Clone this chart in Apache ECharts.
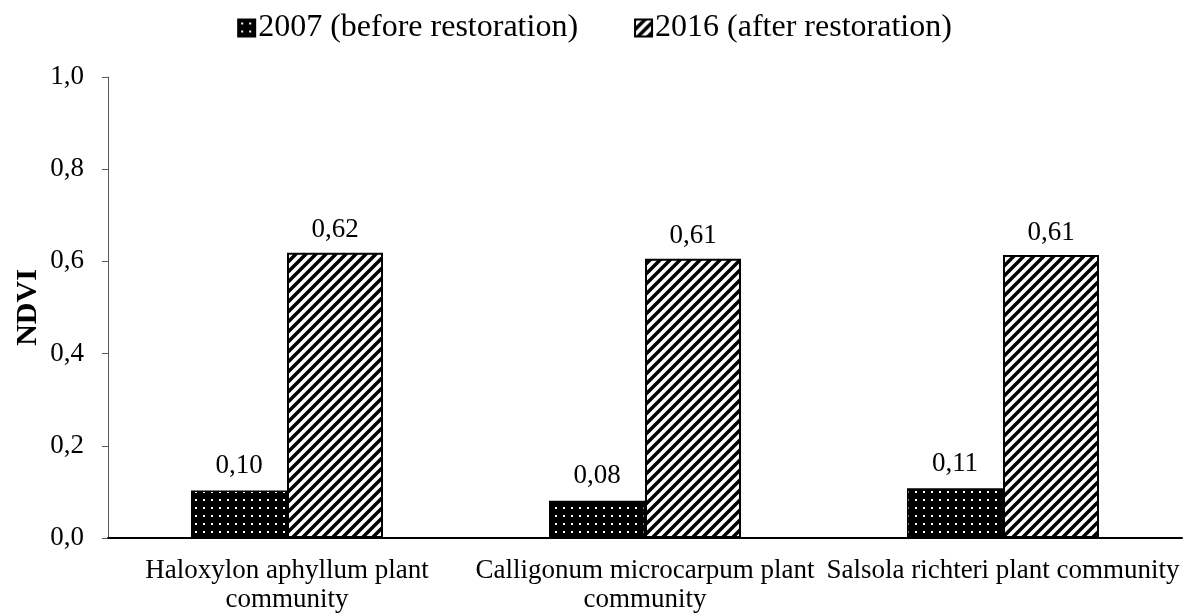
<!DOCTYPE html>
<html>
<head>
<meta charset="utf-8">
<title>NDVI before and after restoration</title>
<script src="https://cdn.jsdelivr.net/npm/echarts@6/dist/echarts.min.js"></script>
<style>
  html, body { margin: 0; padding: 0; background: #fff; }
  #chart { width: 1189px; height: 614px; }
</style>
</head>
<body>
<div id="chart"></div>
<script>
// categories and values
var categories = [
  'Haloxylon aphyllum plant\ncommunity',
  'Calligonum microcarpum plant\ncommunity',
  'Salsola richteri plant community'
]
var seriesNames = ['2007 (before restoration)', '2016 (after restoration)']
var ndvi2007 = [0.103, 0.081, 0.108]
var ndvi2016 = [0.619, 0.606, 0.614]
var yTicks = { min: 0, max: 1, interval: 0.2 }

var FONT = '"Liberation Serif", "Times New Roman", serif'

// black fill with small white dots
function dotPattern () {
  var c = document.createElement('canvas')
  c.width = 8
  c.height = 8
  var ctx = c.getContext('2d')
  ctx.fillStyle = '#000'
  ctx.fillRect(0, 0, 8, 8)
  ctx.fillStyle = '#fff'
  ctx.fillRect(3, 3, 2, 2)
  return c
}

// white fill with black diagonal stripes
function hatchPattern () {
  var s = 10
  var c = document.createElement('canvas')
  c.width = s
  c.height = s
  var ctx = c.getContext('2d')
  ctx.fillStyle = '#fff'
  ctx.fillRect(0, 0, s, s)
  ctx.strokeStyle = '#000'
  ctx.lineWidth = 3.5
  ctx.beginPath()
  ctx.moveTo(-s / 2, s / 2); ctx.lineTo(s / 2, -s / 2)
  ctx.moveTo(0, s); ctx.lineTo(s, 0)
  ctx.moveTo(s / 2, s * 1.5); ctx.lineTo(s * 1.5, s / 2)
  ctx.stroke()
  return c
}

function comma (v, d) {
  return v.toFixed(d).replace('.', ',')
}

var chart = echarts.init(document.getElementById('chart'))
chart.setOption({
  backgroundColor: '#fff',
  animation: false,
  textStyle: { fontFamily: FONT, color: '#000' },
  legend: {
    top: 7,
    left: 'center',
    itemWidth: 17,
    itemHeight: 17,
    itemGap: 56,
    icon: 'rect',
    textStyle: { fontFamily: FONT, fontSize: 32, color: '#000', padding: [0, 0, 0, -2] }
  },
  grid: {
    left: 108,
    right: 7,
    top: 77,
    bottom: 76,
    containLabel: false,
    outerBoundsMode: 'none'
  },
  xAxis: {
    type: 'category',
    data: categories,
    axisTick: { show: false },
    axisLine: { lineStyle: { color: '#000', width: 2 } },
    axisLabel: {
      interval: 0,
      margin: 18,
      fontFamily: FONT,
      fontSize: 27,
      lineHeight: 29,
      color: '#000'
    }
  },
  yAxis: {
    type: 'value',
    min: yTicks.min,
    max: yTicks.max,
    interval: yTicks.interval,
    name: 'NDVI',
    nameLocation: 'middle',
    nameGap: 65,
    nameMoveOverlap: false,
    nameTextStyle: { fontFamily: FONT, fontSize: 30, fontWeight: 'bold', color: '#000' },
    splitLine: { show: false },
    axisLine: { show: true, lineStyle: { color: '#595959', width: 1 } },
    axisTick: { show: true, length: 6, lineStyle: { color: '#595959' } },
    axisLabel: {
      margin: 24,
      fontFamily: FONT,
      fontSize: 27,
      color: '#000',
      formatter: function (v) { return comma(v, 1) }
    }
  },
  series: [
    {
      name: seriesNames[0],
      type: 'bar',
      data: ndvi2007,
      barWidth: 96,
      barGap: '0%',
      itemStyle: {
        color: { image: dotPattern(), repeat: 'repeat' },
        borderColor: '#000',
        borderWidth: 1.5
      },
      label: {
        show: true,
        position: 'top',
        distance: 11,
        fontFamily: FONT,
        fontSize: 27,
        color: '#000',
        formatter: function (p) { return comma(p.value, 2) }
      }
    },
    {
      name: seriesNames[1],
      type: 'bar',
      data: ndvi2016,
      barWidth: 96,
      barGap: '0%',
      itemStyle: {
        color: { image: hatchPattern(), repeat: 'repeat' },
        borderColor: '#000',
        borderWidth: 2
      },
      label: {
        show: true,
        position: 'top',
        distance: 9,
        fontFamily: FONT,
        fontSize: 27,
        color: '#000',
        formatter: function (p) { return comma(p.value, 2) }
      }
    }
  ]
})
</script>
</body>
</html>
